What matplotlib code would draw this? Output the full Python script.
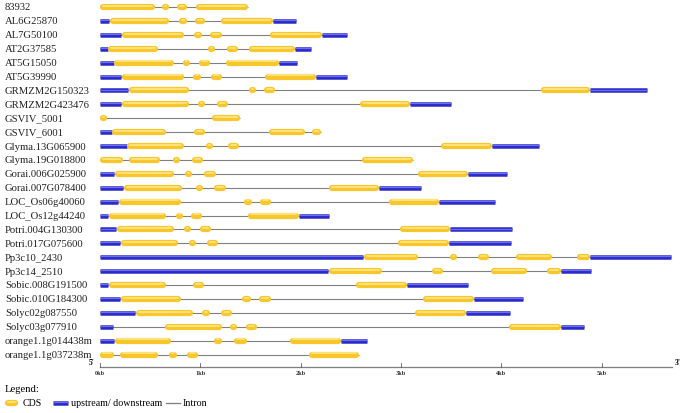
import matplotlib
matplotlib.use("Agg")
import matplotlib.pyplot as plt

# gene names, top to bottom
genes = ["83932", "AL6G25870", "AL7G50100", "AT2G37585", "AT5G15050", "AT5G39990",
         "GRMZM2G150323", "GRMZM2G423476", "GSVIV_5001", "GSVIV_6001",
         "Glyma.13G065900", "Glyma.19G018800", "Gorai.006G025900", "Gorai.007G078400",
         "LOC_Os06g40060", "LOC_Os12g44240", "Potri.004G130300", "Potri.017G075600",
         "Pp3c10_2430", "Pp3c14_2510", "Sobic.008G191500", "Sobic.010G184300",
         "Solyc02g087550", "Solyc03g077910", "orange1.1g014438m", "orange1.1g037238m"]

# CDS segments (kb)
cds = [
    [(0, 0.55), (0.62, 0.69), (0.77, 0.87), (0.96, 1.47)],
    [(0.10, 0.69), (0.79, 0.87), (0.95, 1.05), (1.21, 1.72)],
    [(0.22, 0.84), (0.94, 1.02), (1.10, 1.22), (1.69, 2.21)],
    [(0.08, 0.58), (1.08, 1.15), (1.27, 1.38), (1.48, 1.94)],
    [(0.14, 0.74), (0.83, 0.90), (0.99, 1.10), (1.26, 1.78)],
    [(0.22, 0.84), (0.93, 1.01), (1.11, 1.22), (1.64, 2.15)],
    [(0.29, 0.89), (1.48, 1.55), (1.63, 1.74), (4.39, 4.88)],
    [(0.22, 0.89), (0.98, 1.04), (1.17, 1.28), (2.59, 3.09)],
    [(0, 0.07), (1.12, 1.40)],
    [(0.12, 0.66), (0.78, 0.84), (0.94, 1.05), (1.68, 2.04), (2.11, 2.20)],
    [(0.27, 0.84), (1.06, 1.13), (1.28, 1.39), (3.40, 3.91)],
    [(0, 0.23), (0.29, 0.60), (0.73, 0.80), (0.92, 1.03), (2.61, 3.12)],
    [(0.15, 0.74), (0.85, 0.91), (1.04, 1.16), (3.17, 3.67)],
    [(0.24, 0.82), (0.96, 1.03), (1.14, 1.26), (2.28, 2.78)],
    [(0.19, 0.81), (1.43, 1.51), (1.59, 1.70), (2.88, 3.38)],
    [(0.09, 0.66), (0.76, 0.83), (0.91, 1.02), (1.47, 1.98)],
    [(0.17, 0.74), (0.84, 0.91), (1.00, 1.11), (2.99, 3.49)],
    [(0.21, 0.78), (0.89, 0.96), (1.07, 1.18), (2.97, 3.48)],
    [(2.63, 3.17), (3.49, 3.56), (3.77, 3.88), (4.15, 4.50), (4.75, 4.88)],
    [(2.28, 2.81), (3.04, 3.10), (3.31, 3.42), (3.90, 4.26), (4.45, 4.59)],
    [(0.09, 0.66), (0.75, 0.81), (0.93, 1.04), (2.55, 3.06)],
    [(0.21, 0.81), (1.42, 1.50), (1.58, 1.70), (3.22, 3.73)],
    [(0.36, 0.93), (1.02, 1.10), (1.21, 1.32), (3.14, 3.65)],
    [(0.13, 0.17), (0.65, 1.22), (1.30, 1.37), (1.45, 1.56), (4.08, 4.59)],
    [(0.15, 0.71), (1.14, 1.22), (1.34, 1.46), (1.89, 2.40)],
    [(0, 0.14), (0.20, 0.58), (0.69, 0.77), (0.87, 0.98), (2.08, 2.58)],
]

# upstream / downstream segments (kb)
utr = [
    [],
    [(0, 0.09), (1.72, 1.95)],
    [(0, 0.21), (2.21, 2.46)],
    [(0, 0.08), (1.94, 2.10)],
    [(0, 0.14), (1.78, 1.96)],
    [(0, 0.21), (2.15, 2.46)],
    [(0, 0.28), (4.88, 5.45)],
    [(0, 0.21), (3.09, 3.50)],
    [],
    [(0, 0.12)],
    [(0, 0.27), (3.91, 4.37)],
    [],
    [(0, 0.14), (3.67, 4.06)],
    [(0, 0.23), (2.78, 3.20)],
    [(0, 0.18), (3.38, 3.94)],
    [(0, 0.08), (1.98, 2.28)],
    [(0, 0.16), (3.49, 4.11)],
    [(0, 0.20), (3.48, 4.10)],
    [(0, 2.62), (4.88, 5.69)],
    [(0, 2.27), (4.59, 4.89)],
    [(0, 0.08), (3.06, 3.67)],
    [(0, 0.20), (3.73, 4.22)],
    [(0, 0.35), (3.65, 4.09)],
    [(0, 0.13), (4.59, 4.82)],
    [(0, 0.14), (2.40, 2.66)],
    [],
]

scale_ticks = [0, 1, 2, 3, 4, 5]
scale_labels = ["0kb", "1kb", "2kb", "3kb", "4kb", "5kb"]

YEL = "#F9C72C"
YEL_HI = "#FFE27A"
BLUE = "#2A2AC8"
BLUE_HI = "#6E6EF2"
GRAY = "#808080"

W, H = 685, 414
fig = plt.figure(figsize=(W / 100, H / 100), dpi=100)
ax = fig.add_axes([100 / W, 0, 572 / W, 1])
row_px = 13.9
top_px = 8
ax.set_xlim(0, 5.7)
ax.set_ylim((H - top_px) / row_px, -top_px / row_px)
ax.axis("off")

px_per_kb = 572 / 5.7
pt = 72 / 100  # points per pixel
cap = 3 / px_per_kb  # half of the CDS height in kb

serif = ["Liberation Serif", "DejaVu Serif"]

for i, g in enumerate(genes):
    ax.text(-95 / px_per_kb, i, g, fontsize=7.7, family=serif, va="center", ha="left",
            color="#222222", clip_on=False)
    segs = sorted(cds[i] + utr[i])
    start = segs[0][0]
    end = max(s[1] for s in segs)
    ax.plot([start, end], [i, i], color=GRAY, lw=1.1 * pt, zorder=1, solid_capstyle="butt")
    for a, b in utr[i]:
        ax.plot([a, b], [i, i], color=BLUE, lw=4.5 * pt, solid_capstyle="butt", zorder=2)
        ax.plot([a, b], [i - 0.9 / row_px, i - 0.9 / row_px], color=BLUE_HI, lw=1.2 * pt,
                solid_capstyle="butt", zorder=3)
    for a, b in cds[i]:
        a2, b2 = a + cap, b - cap
        if b2 - a2 < 0.004:
            m = (a + b) / 2
            a2, b2 = m - 0.002, m + 0.002
        ax.plot([a2, b2], [i, i], color=YEL, lw=6.2 * pt, solid_capstyle="round", zorder=4)
        ax.plot([a2, b2], [i - 1.2 / row_px, i - 1.2 / row_px], color=YEL_HI, lw=2 * pt,
                solid_capstyle="round", zorder=5)

# scale bar
sy = (368 - top_px) / row_px
ax.plot([0, 5.7], [sy, sy], color=GRAY, lw=1.3 * pt, zorder=1, clip_on=False)
for t, lab in zip(scale_ticks, scale_labels):
    ax.plot([t, t], [sy, sy - 4 / row_px], color="#555555", lw=0.8 * pt)
    ax.text(t, sy + 6 / row_px, lab, fontsize=4.5, family=serif, ha="center", va="center",
            fontweight="bold", color="#333333")
ax.text(-8 / px_per_kb, sy - 5 / row_px, "5'", fontsize=5.5, family=serif, ha="center",
        va="center", fontweight="bold", clip_on=False)
ax.text(5.7 + 6 / px_per_kb, sy - 5 / row_px, "3'", fontsize=5.5, family=serif, ha="center",
        va="center", fontweight="bold", clip_on=False)

# legend
lg = fig.add_axes([0, 0, 1, 1])
lg.set_xlim(0, W)
lg.set_ylim(H, 0)
lg.axis("off")
lg.text(5, 390, "Legend:", fontsize=7.7, family=serif, va="center", ha="left")
lg.plot([8, 15], [404, 404], color=YEL, lw=6.2 * pt, solid_capstyle="round")
lg.plot([8, 15], [403, 403], color=YEL_HI, lw=2 * pt, solid_capstyle="round")
lg.text(23, 404, "CDS", fontsize=7.2, family=serif, va="center", ha="left")
lg.plot([53, 68], [404, 404], color=BLUE, lw=4.5 * pt, solid_capstyle="butt")
lg.plot([53, 68], [403, 403], color=BLUE_HI, lw=1.2 * pt, solid_capstyle="butt")
lg.text(71, 404, "upstream/ downstream", fontsize=7.2, family=serif, va="center", ha="left")
lg.plot([166, 180], [404, 404], color=GRAY, lw=1.3 * pt)
lg.text(183, 404, "Intron", fontsize=7.2, family=serif, va="center", ha="left")

fig.savefig("out.png", dpi=100)
